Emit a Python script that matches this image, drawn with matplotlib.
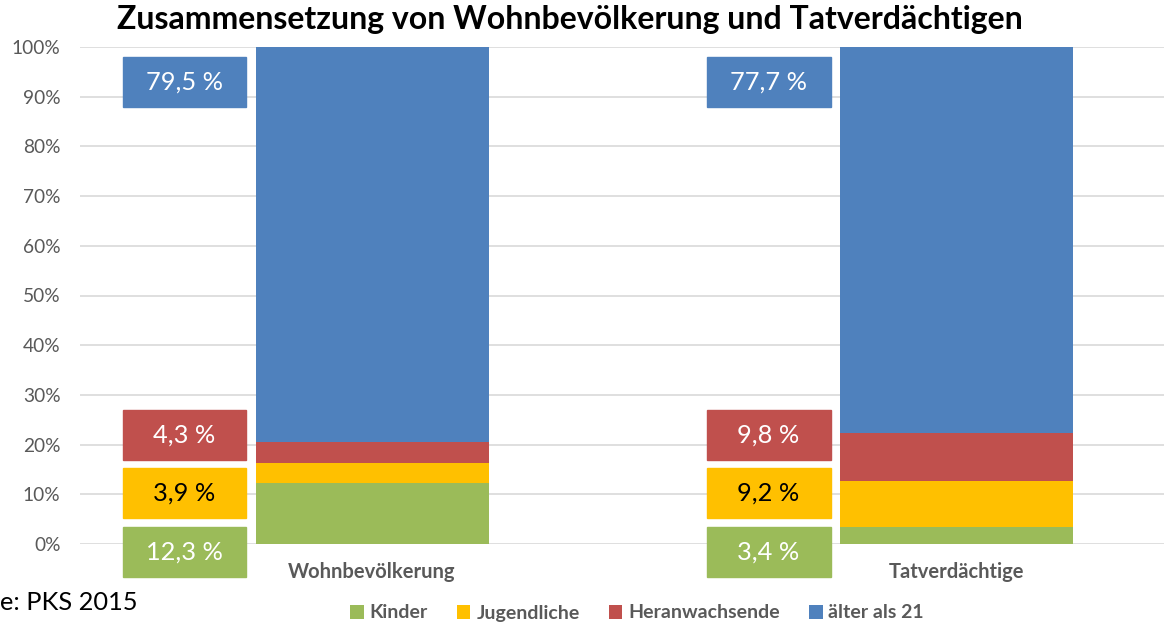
import matplotlib.pyplot as plt
from matplotlib.patches import Rectangle
import numpy as np

plt.rcParams['font.family'] = ['Lato', 'DejaVu Sans']

# data
categories = ["Wohnbevölkerung", "Tatverdächtige"]
groups = ["Kinder", "Jugendliche", "Heranwachsende", "älter als 21"]
kinder = [12.3, 3.4]
jugendliche = [3.9, 9.2]
heranwachsende = [4.3, 9.8]
aelter = [79.5, 77.7]
labels = [["12,3 %", "3,9 %", "4,3 %", "79,5 %"],
          ["3,4 %", "9,2 %", "9,8 %", "77,7 %"]]

colors = ["#9BBB59", "#FFC000", "#C0504D", "#4F81BD"]
txt_colors = ["white", "black", "white", "white"]

W, H = 1164, 623
fig = plt.figure(figsize=(W / 100, H / 100), dpi=100)
ax = fig.add_axes([80 / W, 79 / H, (W - 80) / W, 497 / H])

x = np.arange(len(categories))
series = [kinder, jugendliche, heranwachsende, aelter]
bottom = np.zeros(len(categories))
handles = []
for vals, c, name in zip(series, colors, groups):
    vals = np.array(vals)
    h = ax.bar(x, vals, 0.399, bottom=bottom, color=c, label=name, zorder=2)
    handles.append(h)
    bottom += vals
ax.set_ylim(0, 100)
ax.set_xlim(-0.5, 1.356)

# label boxes left of each bar (manually placed like the original)
box_y = [-6.6, 5.2, 16.9, 87.9]
for i in range(len(categories)):
    cx = x[i] - 0.321
    for j in range(4):
        r = Rectangle((cx - 0.106, box_y[j]), 0.212, 10.1, color=colors[j],
                      clip_on=False, zorder=3)
        ax.add_patch(r)
        ax.text(cx, box_y[j] + 5.05, labels[i][j], ha='center', va='center',
                fontsize=18.3, color=txt_colors[j], zorder=4, clip_on=False)

ax.set_yticks(np.arange(0, 101, 10))
ax.set_yticklabels([f"{v}%" for v in range(0, 101, 10)], fontsize=13.8, color="#595959")
ax.yaxis.grid(True, color="#D9D9D9", lw=1.2, zorder=0)
ax.tick_params(axis='y', length=0, pad=14)
ax.tick_params(axis='x', length=0, pad=13)
ax.set_xticks(x)
ax.set_xticklabels(categories, fontsize=14.5, fontweight='bold', color="#595959")
for s in ax.spines.values():
    s.set_visible(False)

fig.text(0.49, 1 - 20 / H, "Zusammensetzung von Wohnbevölkerung und Tatverdächtigen",
         ha='center', va='center', fontsize=23, fontweight='bold')
fig.text(0.5 / W, 1 - 603 / H, "e: PKS 2015", ha='left', va='center', fontsize=18.3)

leg = fig.legend(handles=handles, labels=groups, loc='center', ncol=4,
                 bbox_to_anchor=(637 / W, 1 - 613 / H), frameon=False,
                 handlelength=0.7, handleheight=0.7, handletextpad=0.3,
                 columnspacing=1.5, prop={'weight': 'bold', 'size': 14})
for t in leg.get_texts():
    t.set_color("#595959")

fig.savefig("out.png", dpi=100)
